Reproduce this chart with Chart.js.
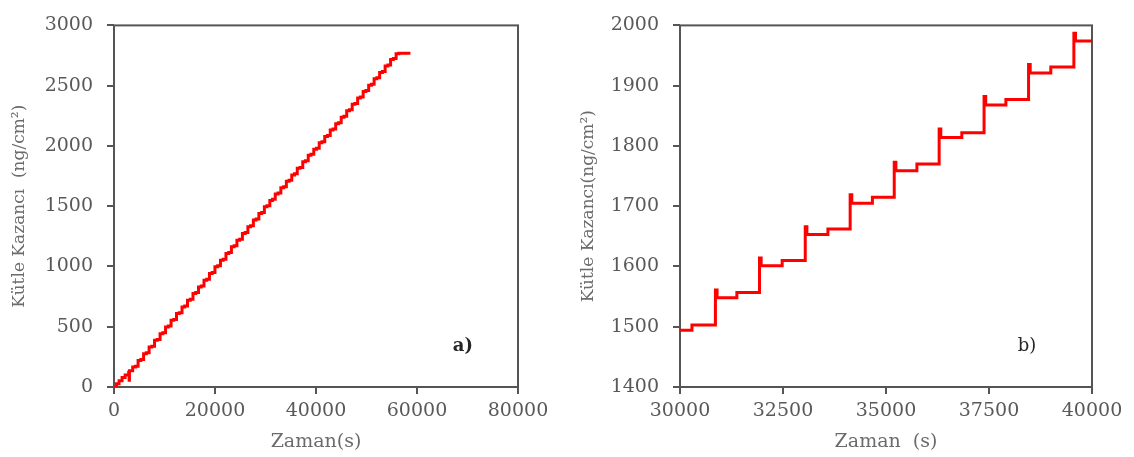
<!DOCTYPE html>
<html>
<head>
<meta charset="utf-8">
<script src="https://cdn.jsdelivr.net/npm/chart.js@4.4.1/dist/chart.umd.min.js"></script>
<style>
  html, body { margin: 0; padding: 0; background: #fff; }
  #wrap { position: relative; width: 1134px; height: 457px; }
  canvas { position: absolute; top: 0; }
  #chartA { left: 0; }
  #chartB { left: 560px; }
</style>
</head>
<body>
<div id="wrap">
  <canvas id="chartA" width="560" height="457"></canvas>
  <canvas id="chartB" width="574" height="457"></canvas>
</div>
<script>
// a) whole run: time (s) at each change of level, mass gain after the change (ng/cm2)
const runTime = [
  0, 500, 1000, 1600, 2200, 2900, 3000, 3060,
  3700, 4240, 4770, 5310, 5860, 6400, 6950, 7490, 8030, 8570,
  9120, 9660, 10210, 10750, 11300, 11840, 12380, 12920, 13470, 14010,
  14560, 15100, 15640, 16180, 16730, 17270, 17820, 18360, 18900, 19440,
  19990, 20530, 21080, 21620, 22170, 22710, 23250, 23790, 24340, 24880,
  25430, 25970, 26510, 27050, 27600, 28140, 28690, 29230, 29780, 30290,
  30860, 31380, 31930, 32480, 33040, 33590, 34130, 34670, 35200, 35750,
  36290, 36840, 37380, 37910, 38460, 39000, 39560, 40100, 40640, 41180,
  41730, 42270, 42820, 43360, 43900, 44440, 44990, 45530, 46080, 46620,
  47170, 47710, 48250, 48790, 49340, 49880, 50430, 50970, 51510, 52050,
  52600, 53140, 53690, 54230, 54770, 55310, 55860, 56400, 58700
];
const runMass = [
  0, 28, 52, 78, 100, 122, 56, 135,
  165, 173, 220, 228, 276, 284, 331, 339, 387, 395,
  442, 450, 498, 506, 553, 561, 609, 617, 664, 672,
  720, 728, 775, 783, 830, 838, 886, 894, 941, 949,
  997, 1005, 1052, 1060, 1108, 1116, 1163, 1171, 1218, 1226,
  1274, 1282, 1329, 1337, 1385, 1393, 1440, 1448, 1495, 1503,
  1548, 1557, 1601, 1610, 1653, 1662, 1706, 1715, 1759, 1770,
  1814, 1822, 1868, 1877, 1922, 1931, 1973, 1981, 2026, 2034,
  2079, 2087, 2132, 2140, 2185, 2193, 2238, 2246, 2292, 2300,
  2345, 2353, 2398, 2406, 2451, 2459, 2504, 2512, 2557, 2565,
  2610, 2618, 2664, 2672, 2717, 2725, 2765, 2768, 2768
];

// b) detail between 30000 and 40000 s, with the overshoot at every large step
const zoomTime = [
  30000, 30290, 30860, 30900, 31380, 31930, 31970, 32480, 33040, 33080,
  33590, 34130, 34170, 34670, 35200, 35240, 35750, 36290, 36330, 36840,
  37380, 37420, 37910, 38460, 38500, 39000, 39560, 39600, 40000
];
const zoomMass = [
  1494, 1503, 1561, 1548, 1557, 1614, 1601, 1610, 1666, 1653,
  1662, 1719, 1705, 1715, 1773, 1759, 1770, 1828, 1814, 1822,
  1882, 1868, 1877, 1935, 1921, 1931, 1987, 1974, 1975
];

const runXTicks = [0, 20000, 40000, 60000, 80000];
const runYTicks = [0, 500, 1000, 1500, 2000, 2500, 3000];
const zoomXTicks = [30000, 32500, 35000, 37500, 40000];
const zoomYTicks = [1400, 1500, 1600, 1700, 1800, 1900, 2000];

const axisColor = '#555555';
const tickColor = '#595959';
const titleColor = '#6b6b6b';
const serif = 'DejaVu Serif';

// box around the plot area, ticks stay outside
const frame = {
  id: 'frame',
  beforeDatasetsDraw(chart) {
    const { ctx, chartArea: a } = chart;
    ctx.save();
    ctx.strokeStyle = axisColor;
    ctx.lineWidth = 2;
    ctx.strokeRect(a.left, a.top, a.right - a.left, a.bottom - a.top);
    ctx.restore();
  }
};

// "a)" / "b)" placed in data units
const panelLabel = {
  id: 'panelLabel',
  afterDraw(chart, args, opts) {
    const { ctx, scales } = chart;
    ctx.save();
    ctx.fillStyle = '#262626';
    ctx.font = (opts.bold ? 'bold ' : '') + '18px "' + serif + '"';
    ctx.textAlign = 'center';
    ctx.textBaseline = 'middle';
    ctx.fillText(opts.text, scales.x.getPixelForValue(opts.x), scales.y.getPixelForValue(opts.y));
    ctx.restore();
  }
};

const fixedTicks = values => scale => {
  scale.ticks = values.map(v => ({ value: v }));
};

function buildChart(id, cfg) {
  const ctx = document.getElementById(id).getContext('2d');
  return new Chart(ctx, {
    type: 'line',
    data: {
      datasets: [{
        data: cfg.time.map((t, i) => ({ x: t, y: cfg.mass[i] })),
        borderColor: '#ff0000',
        borderWidth: 3,
        pointRadius: 0,
        stepped: 'before',
        fill: false
      }]
    },
    options: {
      responsive: false,
      animation: false,
      events: [],
      layout: { padding: { left: 0, right: 42, top: 12, bottom: 0 } },
      plugins: {
        legend: { display: false },
        tooltip: { enabled: false },
        panelLabel: cfg.label
      },
      scales: {
        x: {
          type: 'linear',
          min: cfg.xTicks[0],
          max: cfg.xTicks[cfg.xTicks.length - 1],
          afterBuildTicks: fixedTicks(cfg.xTicks),
          afterFit: s => { s.height = 70; },
          border: { display: false },
          grid: { drawOnChartArea: false, tickLength: 7, lineWidth: 2, color: axisColor },
          ticks: {
            padding: 6, color: tickColor, maxRotation: 0, autoSkip: false,
            font: { family: serif, size: 19 },
            callback: v => String(v)
          },
          title: {
            display: true, text: cfg.xTitle, color: titleColor,
            font: { family: serif, size: 19 },
            padding: { top: 0, bottom: 4 }
          }
        },
        y: {
          type: 'linear',
          min: cfg.yTicks[0],
          max: cfg.yTicks[cfg.yTicks.length - 1],
          afterBuildTicks: fixedTicks(cfg.yTicks),
          afterFit: s => { s.width = cfg.yWidth; },
          border: { display: false },
          grid: { drawOnChartArea: false, tickLength: 7, lineWidth: 2, color: axisColor },
          ticks: {
            padding: 14, color: tickColor,
            font: { family: serif, size: 19 },
            callback: v => String(v)
          },
          title: {
            display: true, text: cfg.yTitle, color: titleColor,
            font: { family: serif, size: 17 },
            padding: { top: cfg.yTitlePad, bottom: 0 }
          }
        }
      }
    },
    plugins: [frame, panelLabel]
  });
}

buildChart('chartA', {
  time: runTime, mass: runMass,
  xTicks: runXTicks, yTicks: runYTicks,
  xTitle: 'Zaman(s)', yTitle: 'Kütle Kazancı  (ng/cm²)',
  yWidth: 114, yTitlePad: 9,
  label: { text: 'a)', x: 69100, y: 336, bold: true }
});

buildChart('chartB', {
  time: zoomTime, mass: zoomMass,
  xTicks: zoomXTicks, yTicks: zoomYTicks,
  xTitle: 'Zaman  (s)', yTitle: 'Kütle Kazancı(ng/cm²)',
  yWidth: 120, yTitlePad: 18,
  label: { text: 'b)', x: 38420, y: 1468, bold: false }
});
</script>
</body>
</html>
